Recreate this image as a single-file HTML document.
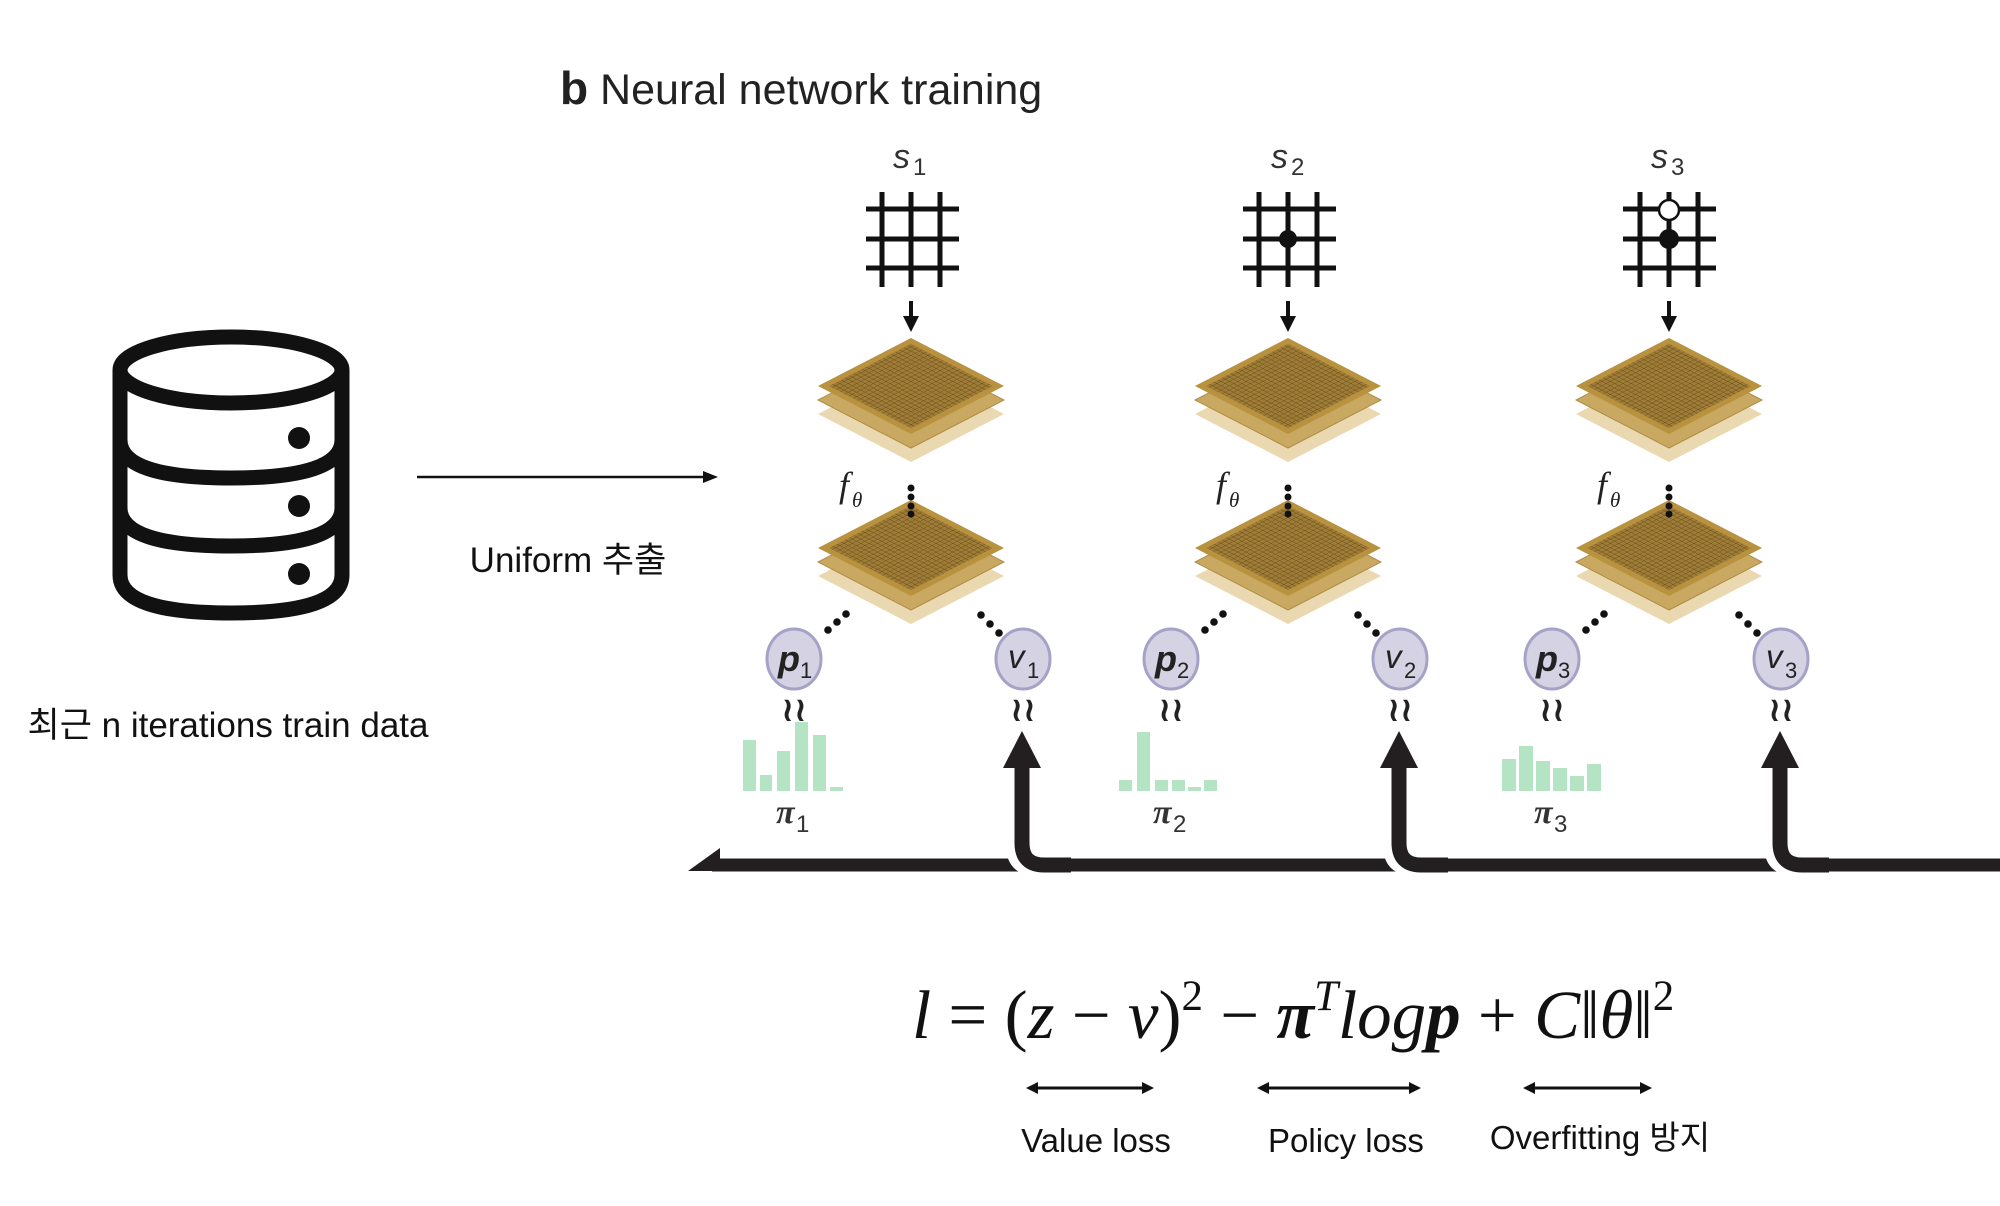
<!DOCTYPE html>
<html><head><meta charset="utf-8"><style>
html,body{margin:0;padding:0;background:#fff;}
svg{display:block;}
</style></head><body>
<svg width="2000" height="1206" viewBox="0 0 2000 1206" xmlns="http://www.w3.org/2000/svg">
<defs>
<pattern id="gp" width="4.5" height="4.5" patternUnits="userSpaceOnUse">
<rect width="4.5" height="4.5" fill="#a07d36"/>
<path d="M0 0H4.5M0 0V4.5" stroke="#5e4519" stroke-width="0.8"/>
</pattern>
<g id="diam">
<polygon points="0,28 93,76 0,124 -93,76" fill="#ead8b0"/>
<polygon points="0,14 93,62 0,110 -93,62" fill="#c9a862"/>
<polygon points="0,14 93,62 0,110 -93,62" fill="none" stroke="#b08d45" stroke-width="1"/>
<g transform="matrix(0.93,0.48,-0.93,0.48,0,0)">
<rect x="0" y="0" width="100" height="100" fill="#b8923e"/>
<rect x="6" y="6" width="88" height="88" fill="url(#gp)"/>
</g>
</g>
<g id="col">
<use href="#diam" x="0" y="338"/>
<use href="#diam" x="0" y="500"/>
<path d="M0 301V318" stroke="#111" stroke-width="4"/>
<polygon points="-8,316 8,316 0,332" fill="#111"/>
<circle cx="0" cy="488" r="3.5" fill="#111"/><circle cx="0" cy="497" r="3.5" fill="#111"/><circle cx="0" cy="506" r="3.5" fill="#111"/><circle cx="0" cy="514" r="3.5" fill="#111"/>
<text x="-72" y="497" font-family="Liberation Serif,serif" font-style="italic" font-size="36" fill="#222">f</text>
<text x="-59" y="507" font-family="Liberation Serif,serif" font-style="italic" font-size="21" fill="#222">θ</text>
<circle cx="-65" cy="614" r="3.8" fill="#111"/><circle cx="-74" cy="622" r="3.8" fill="#111"/><circle cx="-83" cy="630" r="3.8" fill="#111"/>
<circle cx="70" cy="615" r="3.8" fill="#111"/><circle cx="79" cy="624" r="3.8" fill="#111"/><circle cx="88" cy="633" r="3.8" fill="#111"/>
<ellipse cx="-117" cy="659" rx="27" ry="30" fill="#d4d2e3" stroke="#a5a2c8" stroke-width="3"/>
<ellipse cx="112" cy="659" rx="27" ry="30" fill="#d4d2e3" stroke="#a5a2c8" stroke-width="3"/>
<text x="-117" y="721" text-anchor="middle" font-family="DejaVu Sans,sans-serif" font-weight="bold" font-size="34" fill="#222">≀≀</text>
<text x="112" y="721" text-anchor="middle" font-family="DejaVu Sans,sans-serif" font-weight="bold" font-size="34" fill="#222">≀≀</text>
<path d="M100 767V845Q100 871 126 871" fill="none" stroke="#fff" stroke-width="10"/>
<path d="M111 765V843Q111 865 133 865H160" fill="none" stroke="#231f20" stroke-width="15"/>
<polygon points="111,731 130,768 92,768" fill="#231f20"/>
</g>
</defs>

<text x="560" y="104" font-family="Liberation Sans,sans-serif" font-size="43" fill="#222"><tspan font-weight="bold" font-size="46">b</tspan> Neural network training</text>

<g fill="none" stroke="#111" stroke-width="15">
<ellipse cx="231" cy="370" rx="111" ry="33"/>
<path d="M120 370V575Q120 613 231 613Q342 613 342 575V370"/>
<path d="M120 440Q120 478 231 478Q342 478 342 440"/>
<path d="M120 508Q120 546 231 546Q342 546 342 508"/>
</g>
<circle cx="299" cy="438" r="11" fill="#111"/>
<circle cx="299" cy="506" r="11" fill="#111"/>
<circle cx="299" cy="574" r="11" fill="#111"/>
<text x="228" y="737" text-anchor="middle" font-family="Liberation Sans,'Noto Sans CJK KR',sans-serif" font-size="35" fill="#111">최근 n iterations train data</text>

<path d="M417 477H705" stroke="#111" stroke-width="2.5"/>
<polygon points="703,471 718,477 703,483" fill="#111"/>
<text x="568" y="572" text-anchor="middle" font-family="Liberation Sans,'Noto Sans CJK KR',sans-serif" font-size="35" fill="#111">Uniform 추출</text>

<path d="M712 865H2000" stroke="#231f20" stroke-width="13"/>
<polygon points="688,871 720,848 720,871" fill="#231f20"/>

<g transform="translate(911,0)"><use href="#col"/></g>
<g transform="translate(1288,0)"><use href="#col"/></g>
<g transform="translate(1669,0)"><use href="#col"/></g>

<g stroke="#111" stroke-width="5">
<path d="M866 209H959M866 239H959M866 268H959M882 192V287M911 192V287M940 192V287"/>
<path d="M1243 209H1336M1243 239H1336M1243 268H1336M1259 192V287M1288 192V287M1317 192V287"/>
<path d="M1623 209H1716M1623 239H1716M1623 268H1716M1640 192V287M1669 192V287M1698 192V287"/>
</g>
<circle cx="1288" cy="239" r="9" fill="#111"/>
<circle cx="1669" cy="239" r="10" fill="#111"/>
<circle cx="1669" cy="210" r="10" fill="#fff" stroke="#111" stroke-width="2.5"/>

<g font-family="Liberation Sans,sans-serif" font-style="italic" fill="#333">
<text x="893" y="168" font-size="34">s</text><text x="913" y="175" font-size="24" font-style="normal">1</text>
<text x="1271" y="168" font-size="34">s</text><text x="1291" y="175" font-size="24" font-style="normal">2</text>
<text x="1651" y="168" font-size="34">s</text><text x="1671" y="175" font-size="24" font-style="normal">3</text>
</g>

<g font-family="Liberation Sans,sans-serif" fill="#222">
<text x="778" y="671" font-size="36" font-weight="bold" font-style="italic">p</text><text x="800" y="678" font-size="22">1</text>
<text x="1008" y="668" font-size="33" font-style="italic">v</text><text x="1027" y="678" font-size="22">1</text>
<text x="1155" y="671" font-size="36" font-weight="bold" font-style="italic">p</text><text x="1177" y="678" font-size="22">2</text>
<text x="1385" y="668" font-size="33" font-style="italic">v</text><text x="1404" y="678" font-size="22">2</text>
<text x="1536" y="671" font-size="36" font-weight="bold" font-style="italic">p</text><text x="1558" y="678" font-size="22">3</text>
<text x="1766" y="668" font-size="33" font-style="italic">v</text><text x="1785" y="678" font-size="22">3</text>
</g>

<g fill="#b5e4c4">
<rect x="743" y="740" width="13" height="51"/><rect x="760" y="775" width="12" height="16"/><rect x="777" y="751" width="13" height="40"/><rect x="795" y="722" width="13" height="69"/><rect x="813" y="735" width="13" height="56"/><rect x="830" y="787" width="13" height="4"/>
<rect x="1119" y="780" width="13" height="11"/><rect x="1137" y="732" width="13" height="59"/><rect x="1155" y="780" width="13" height="11"/><rect x="1172" y="780" width="13" height="11"/><rect x="1188" y="787" width="13" height="4"/><rect x="1204" y="780" width="13" height="11"/>
<rect x="1502" y="759" width="14" height="32"/><rect x="1519" y="746" width="14" height="45"/><rect x="1536" y="761" width="14" height="30"/><rect x="1553" y="768" width="14" height="23"/><rect x="1570" y="776" width="14" height="15"/><rect x="1587" y="764" width="14" height="27"/>
</g>
<g font-family="Liberation Serif,serif" font-style="italic" font-weight="bold" fill="#333">
<text x="776" y="823" font-size="34">π</text><text x="796" y="832" font-size="24" font-weight="normal" font-style="normal" font-family="Liberation Sans,sans-serif">1</text>
<text x="1153" y="823" font-size="34">π</text><text x="1173" y="832" font-size="24" font-weight="normal" font-style="normal" font-family="Liberation Sans,sans-serif">2</text>
<text x="1534" y="823" font-size="34">π</text><text x="1554" y="832" font-size="24" font-weight="normal" font-style="normal" font-family="Liberation Sans,sans-serif">3</text>
</g>

<text x="912" y="1038" font-family="Liberation Serif,serif" font-size="69" fill="#111"><tspan font-style="italic">l</tspan> = (<tspan font-style="italic">z</tspan> − <tspan font-style="italic">v</tspan>)<tspan dy="-28" font-size="43">2</tspan><tspan dy="28"> − </tspan><tspan font-style="italic" font-weight="bold">π</tspan><tspan dy="-28" font-size="43" font-style="italic">T</tspan><tspan dy="28" font-style="italic">log</tspan><tspan font-style="italic" font-weight="bold">p</tspan> + <tspan font-style="italic">C</tspan>‖<tspan font-style="italic">θ</tspan>‖<tspan dy="-28" font-size="43">2</tspan></text>

<g stroke="#111" stroke-width="3">
<path d="M1034 1088H1146M1265 1088H1413M1531 1088H1644"/>
</g>
<g fill="#111">
<polygon points="1026,1088 1038,1082 1038,1094"/><polygon points="1154,1088 1142,1082 1142,1094"/>
<polygon points="1257,1088 1269,1082 1269,1094"/><polygon points="1421,1088 1409,1082 1409,1094"/>
<polygon points="1523,1088 1535,1082 1535,1094"/><polygon points="1652,1088 1640,1082 1640,1094"/>
</g>
<g font-family="Liberation Sans,'Noto Sans CJK KR',sans-serif" font-size="33" fill="#111" text-anchor="middle">
<text x="1096" y="1152">Value loss</text>
<text x="1346" y="1152">Policy loss</text>
<text x="1600" y="1149">Overfitting 방지</text>
</g>
</svg>
</body></html>
